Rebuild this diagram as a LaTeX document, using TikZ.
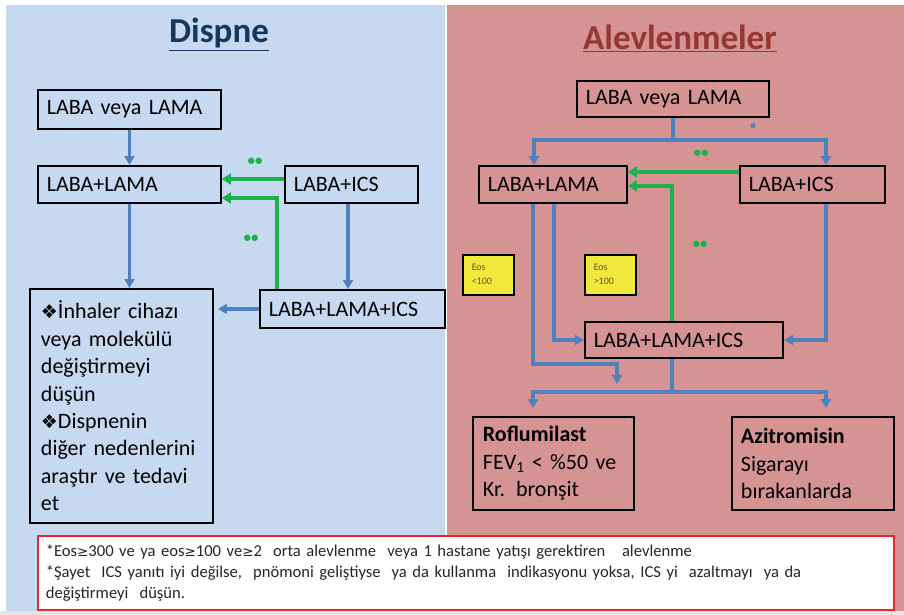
\documentclass[tikz,border=0pt]{standalone}
\usepackage{fontspec}
\setmainfont{Carlito}
\newfontfamily\symf{DejaVu Sans}
\usetikzlibrary{arrows.meta,calc}
\definecolor{panelblue}{HTML}{C6D9F1}
\definecolor{panelred}{HTML}{D59393}
\definecolor{titleblue}{HTML}{17375E}
\definecolor{titlered}{HTML}{953735}
\definecolor{arrowblue}{HTML}{4F81BD}
\definecolor{arrowgreen}{HTML}{1DB14B}
\definecolor{noteyellow}{HTML}{F0E93C}
\definecolor{footred}{HTML}{E8262C}
\definecolor{ytext}{HTML}{5A5A28}
\begin{document}
\begin{tikzpicture}[x=1pt,y=-1pt,
  bx/.style={draw=black, line width=1.9pt, anchor=north west, align=left,
    inner xsep=9pt, inner ysep=0pt, font=\fontsize{22}{27.4}\selectfont, text=black},
  ybox/.style={draw=black, line width=1.5pt, fill=noteyellow, anchor=north west,
    align=left, inner xsep=9pt, inner ysep=0pt, minimum height=40pt,
    text width=33pt, font=\fontsize{10}{14}\selectfont, text=ytext},
  barrow/.style={draw=arrowblue, line width=3.2pt, -{Triangle[length=9pt,width=10pt]}},
  bline/.style={draw=arrowblue, line width=3.2pt},
  garrow/.style={draw=arrowgreen, line width=3.8pt, -{Triangle[length=9pt,width=11pt]}},
  gdots/.style={text=arrowgreen, font=\fontsize{15}{15}\selectfont\bfseries, inner sep=0pt},
  ttl/.style={anchor=base, font=\fontsize{35}{40}\selectfont\bfseries},
  ge/.style={}
]
\useasboundingbox (0,0) rectangle (904,615);
% backgrounds
\fill[white] (0,0) rectangle (904,615);
\fill[panelblue] (6,5) rectangle (445,611);
\fill[panelred] (447,5) rectangle (904,611);
\fill[black!10] (0,611) rectangle (904,615);

% titles
\node[ttl, text=titleblue] (t1) at (219,43) {\underline{Dispne}};
\node[ttl, text=titlered] (t2) at (680,50) {\underline{Alevlenmeler}};

% ---------- left panel ----------
\node[bx, text width=165pt, minimum height=39pt] (l1) at (37,89) {LABA veya LAMA};
\node[bx, text width=165pt, minimum height=37pt] (l2) at (37,165) {LABA+LAMA};
\node[bx, text width=115pt, minimum height=37pt] (l3) at (284,165) {LABA+ICS};
\node[bx, text width=167pt, minimum height=38pt] (l4) at (259,289) {LABA+LAMA+ICS};
\node[bx, inner xsep=11pt, text width=161pt, minimum height=234pt] (lb) at (29,288)
  {{\symf\fontsize{19}{19}\selectfont ❖}İnhaler cihazı\\
   veya molekülü\\
   değiştirmeyi\\
   düşün\\
   {\symf\fontsize{19}{19}\selectfont ❖}Dispnenin\\
   diğer nedenlerini\\
   araştır ve tedavi\\
   et};

\coordinate (l3b) at ($(l3.south west)+(64,0)$);
\draw[barrow] (l1.south) -- (l2.north);
\draw[barrow] (l2.south) -- (l2.south |- lb.north);
\draw[barrow] (l3b) -- (l3b |- l4.north);
\draw[barrow] (l4.west) -- ($(lb.east |- l4.west)+(4,0)$);
\draw[garrow] ($(l3.north west)+(0,14)$) -- ($(l2.north east)+(0,14)$);
\draw[garrow] ($(l4.north west)+(18,0)$) |- ($(l2.north east)+(0,33)$);
\node[gdots] (d1) at (255,162) {••};
\node[gdots] (d2) at (251,239) {••};

% ---------- right panel ----------
\node[bx, text width=174pt, minimum height=36pt] (r1) at (576,80) {LABA veya LAMA};
\node[bx, text width=130pt, minimum height=37pt] (r2) at (478,165) {LABA+LAMA};
\node[bx, text width=127pt, minimum height=37pt] (r3) at (739,165) {LABA+ICS};
\node[bx, text width=180pt, minimum height=36pt] (r4) at (584,321) {LABA+LAMA+ICS};
\node[bx, inner xsep=10pt, text width=141pt, minimum height=93pt] (r5) at (472,416)
  {\textbf{Roflumilast}\\FEV\textsubscript{1} < \%50 ve\\Kr. bronşit};
\node[bx, text width=144pt, minimum height=93pt] (r6) at (731,416)
  {\textbf{Azitromisin}\\Sigarayı\\bırakanlarda};
\node[ybox] (y1) at (462,254) {Eos\\<100};
\node[ybox] (y2) at (584,254) {Eos\\>100};

\coordinate (rt) at ($(r1.south)+(0,22)$);
\draw[bline] (r1.south) -- (rt);
\draw[barrow] (rt) -| ($(r2.north west)+(56,0)$);
\draw[barrow] (rt) -| ($(r3.north west)+(87,0)$);
\draw[garrow] ($(r3.north west)+(0,7)$) -- ($(r2.north east)+(0,7)$);
\draw[garrow] ($(r4.north west)+(88,0)$) |- ($(r2.north east)+(0,21)$);
\node[text=arrowblue, font=\fontsize{12}{12}\selectfont\bfseries, inner sep=0pt] (bd) at (753,127) {•};
\node[gdots] (d3) at (701,154) {••};
\node[gdots] (d4) at (700,245) {••};

\coordinate (rj) at (617,364);
\coordinate (rjend) at (617,384);
\draw[barrow] ($(r2.south west)+(76,0)$) |- (r4.west);
\draw[barrow] ($(r2.south west)+(55,0)$) |- (rj) -- (rjend);
\draw[barrow] ($(r3.south west)+(87,0)$) |- (r4.east);
\coordinate (rb) at ($(r4.south west)+(88,33)$);
\draw[bline] ($(r4.south west)+(88,0)$) -- (rb);
\draw[barrow] (rb) -| ($(r5.north west)+(61,-8)$);
\draw[barrow] (rb) -| ($(r6.north west)+(95,-8)$);

% ---------- footnote ----------
\node[draw=footred, line width=1.6pt, fill=white, anchor=north west, align=left,
  inner xsep=8pt, inner ysep=0pt, text width=840pt, minimum height=74pt,
  font=\fontsize{16.6}{21}\selectfont, text=black!85] (foot) at (37,535)
  {*Eos{\symf\fontsize{13.5}{13.5}\selectfont ≥}300 ve ya eos{\symf\fontsize{13.5}{13.5}\selectfont ≥}100 ve{\symf\fontsize{13.5}{13.5}\selectfont ≥}2 \ orta alevlenme \ veya 1 hastane yatışı gerektiren \ \ alevlenme\\
   **Şayet \ ICS yanıtı iyi değilse, \ pnömoni geliştiyse \ ya da kullanma \ indikasyonu yoksa, ICS yi \ azaltmayı \ ya da\\
   değiştirmeyi \ düşün.};
\end{tikzpicture}
\end{document}
